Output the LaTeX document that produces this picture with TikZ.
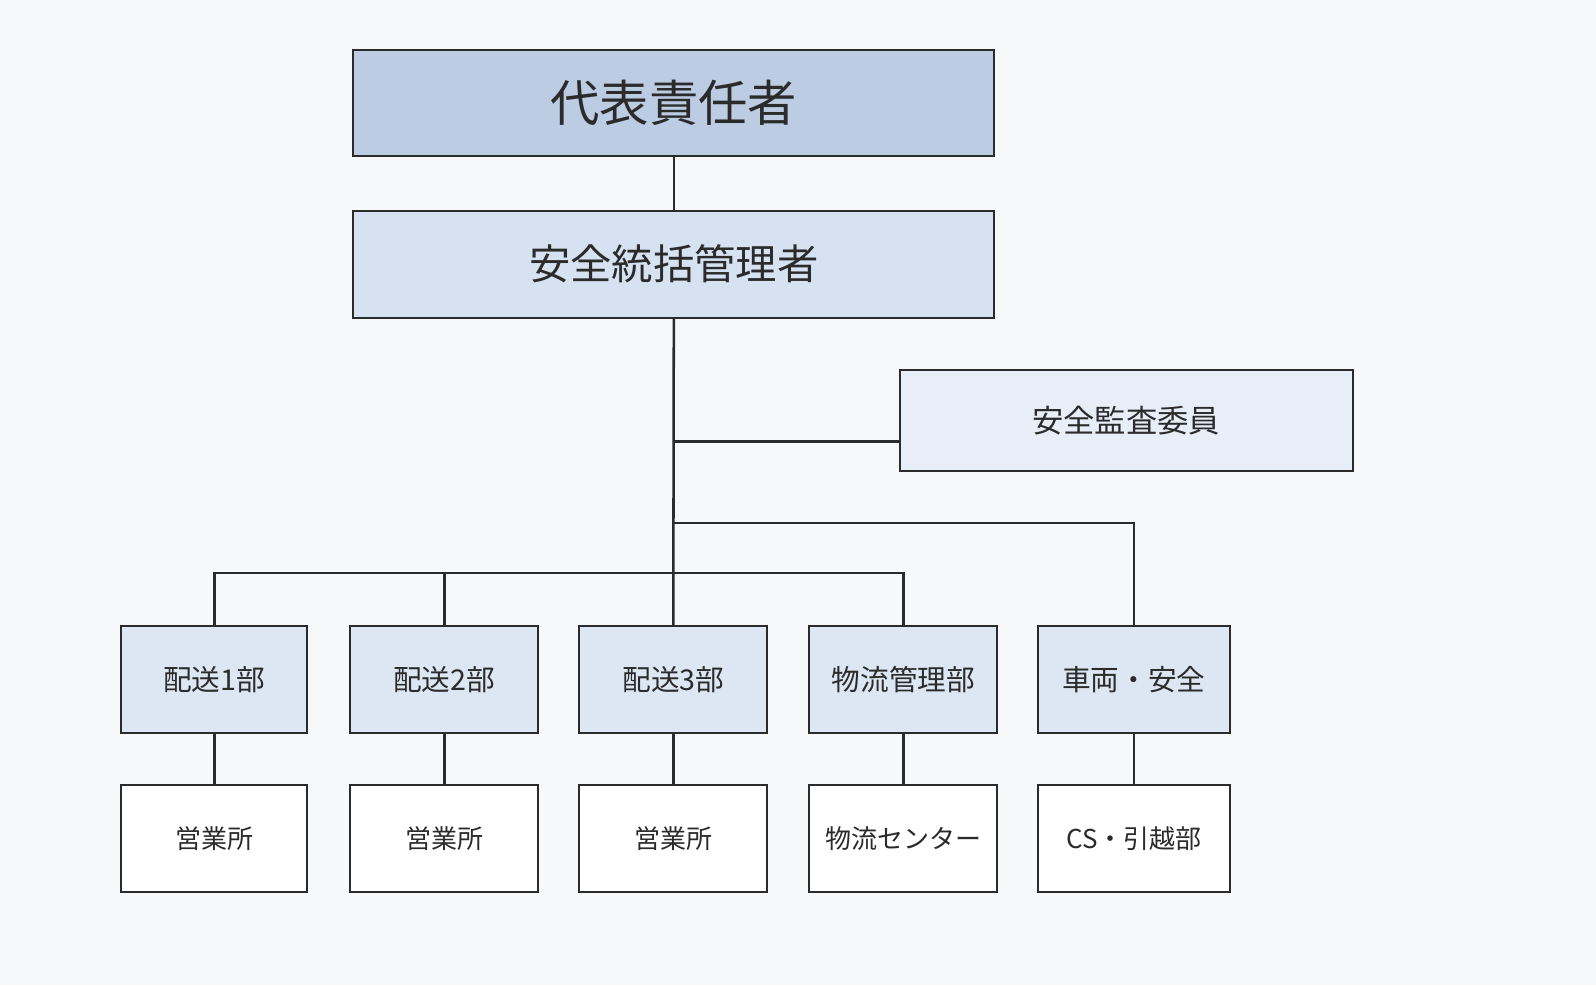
\documentclass[tikz,border=0pt]{standalone}
\usepackage{fontspec}
\setmainfont{Noto Sans CJK JP}
\definecolor{bgc}{HTML}{F7F8FA}
\definecolor{topc}{HTML}{BCCCE2}
\definecolor{secc}{HTML}{D6E2F2}
\definecolor{audc}{HTML}{E8EEF8}
\definecolor{depc}{HTML}{DDE7F4}
\definecolor{edgec}{HTML}{2B2B2B}
\newlength{\pxu}
\setlength{\pxu}{0.7634pt}
\begin{document}
\begin{tikzpicture}[x=\pxu,y=-\pxu,
        box/.style={draw=edgec,line width=1.5pt,rectangle,anchor=north west,inner sep=0pt,text=edgec},
        dept/.style={box,fill=depc,font=\fontsize{21.5}{24}\selectfont},
        site/.style={box,fill=white,font=\fontsize{19.5}{22}\selectfont},
        link/.style={draw=edgec,line width=1.9pt}]

    \fill[bgc] (0,0) rectangle (1568,968);
    \useasboundingbox (0,0) rectangle (1568,968);

    \node[box,fill=topc,minimum width=630\pxu,minimum height=104\pxu,font=\fontsize{37}{40}\selectfont] (rep) at (346,48) {代表責任者};
    \node[box,fill=secc,minimum width=630\pxu,minimum height=105\pxu,font=\fontsize{31}{34}\selectfont] (gen) at (346,206) {安全統括管理者};
    \node[box,fill=audc,minimum width=445\pxu,minimum height=99\pxu,font=\fontsize{23.5}{26}\selectfont] (aud) at (883,363) {安全監査委員};

    \foreach \n/\x/\w/\t/\s in {d1/118/183/配送1部/営業所,d2/343/185/配送2部/営業所,d3/568/185/配送3部/営業所,
                                d4/794/185/物流管理部/物流センター,d5/1019/188/車両・安全/CS・引越部}{
        \node[dept,minimum width=\w\pxu,minimum height=105\pxu] (\n) at (\x,614) {\t};
        \node[site,minimum width=\w\pxu,minimum height=105\pxu] (\n s) at (\x,770) {\s};
        \draw[link] (\n.south) -- (\n s.north);
    }

    \coordinate (ja) at (661,434);
    \coordinate (jb) at (661,514);
    \coordinate (jc) at (661,563);
    \draw[link] (rep.south) -- (gen.north);
    \draw[link] (gen.south) -- (d3.north);
    \draw[link] (ja) -- (aud.west |- ja);
    \draw[link] (jb) -| (d5.north);
    \draw[link] (d1.north) |- (jc) -| (d4.north);
    \draw[link] (d2.north) -- (d2.north |- jc);
\end{tikzpicture}
\end{document}
